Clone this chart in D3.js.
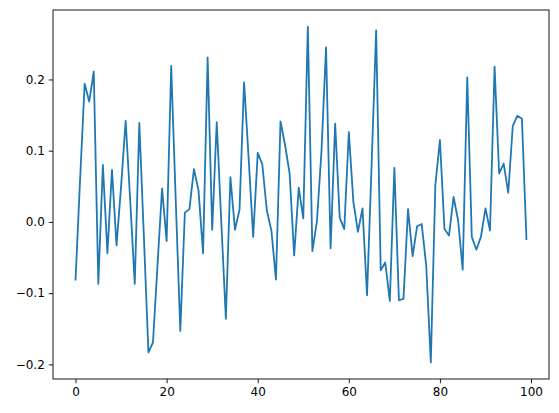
<!DOCTYPE html>
<html>
<head>
<meta charset="utf-8">
<script src="https://cdn.jsdelivr.net/npm/d3@7"></script>
<style>
  body { margin: 0; background: #fff; }
  svg { display: block; }
  .tick text { font-family: "DejaVu Sans", sans-serif; font-size: 12px; fill: #000; }
</style>
</head>
<body>
<script>
// valeurs
var valeurs = [
  -0.081, 0.06, 0.194, 0.169, 0.211, -0.087, 0.080, -0.044, 0.073, -0.033,
  0.05, 0.142, 0.03, -0.087, 0.139, -0.02, -0.183, -0.169, -0.06, 0.047,
  -0.027, 0.219, 0.03, -0.153, 0.013, 0.018, 0.074, 0.044, -0.044, 0.231,
  -0.011, 0.140, 0.0, -0.136, 0.063, -0.011, 0.017, 0.196, 0.09, -0.021,
  0.097, 0.081, 0.016, -0.012, -0.081, 0.141, 0.108, 0.068, -0.047, 0.048,
  0.005, 0.274, -0.041, 0.001, 0.10, 0.245, -0.037, 0.138, 0.006, -0.010,
  0.126, 0.028, -0.014, 0.019, -0.103, 0.08, 0.269, -0.068, -0.057, -0.111,
  0.076, -0.110, -0.108, 0.018, -0.048, -0.006, -0.003, -0.062, -0.197, 0.052,
  0.115, -0.010, -0.019, 0.035, 0.002, -0.067, 0.203, -0.021, -0.039, -0.021,
  0.019, -0.012, 0.218, 0.068, 0.082, 0.041, 0.135, 0.149, 0.145, -0.024
];
var ticksX = [0, 20, 40, 60, 80, 100];
var ticksY = [-0.2, -0.1, 0.0, 0.1, 0.2];

var largeur = 559, hauteur = 413;
var zone = { left: 53, top: 10, right: 549, bottom: 379 };

var svg = d3.select("body").append("svg")
  .attr("width", largeur)
  .attr("height", hauteur);

var donnees = valeurs.map((v, i) => ({ x: i, y: v }));

// marges de 5% comme matplotlib
var xMin = 0, xMax = valeurs.length - 1;
var dx = (xMax - xMin) * 0.05;
var yMin = d3.min(valeurs), yMax = d3.max(valeurs);
var dy = (yMax - yMin) * 0.05;

var echelleX = d3.scaleLinear()
  .domain([xMin - dx, xMax + dx])
  .range([zone.left, zone.right]);

var echelleY = d3.scaleLinear()
  .domain([yMin - dy, yMax + dy])
  .range([zone.bottom, zone.top]);

var ligne = d3.line()
  .x(d => echelleX(d.x))
  .y(d => echelleY(d.y));

svg.append("path")
  .datum(donnees)
  .attr("fill", "none")
  .attr("stroke", "#1f77b4")
  .attr("stroke-width", 1.8)
  .attr("stroke-linejoin", "round")
  .attr("stroke-linecap", "square")
  .attr("d", ligne);

var axeX = d3.axisBottom(echelleX)
  .tickValues(ticksX)
  .tickFormat(d3.format("d"))
  .tickSize(4.2)
  .tickPadding(4);

var axeY = d3.axisLeft(echelleY)
  .tickValues(ticksY)
  .tickFormat(d3.format(".1f"))
  .tickSize(4.2)
  .tickPadding(4);

var gX = svg.append("g")
  .attr("transform", `translate(0,${zone.bottom})`)
  .call(axeX);
var gY = svg.append("g")
  .attr("transform", `translate(${zone.left},0)`)
  .call(axeY);

[gX, gY].forEach(g => {
  g.select(".domain").remove();
  g.selectAll(".tick line").attr("stroke", "#000").attr("stroke-width", 0.9);
});

// cadre
svg.append("rect")
  .attr("x", zone.left)
  .attr("y", zone.top)
  .attr("width", zone.right - zone.left)
  .attr("height", zone.bottom - zone.top)
  .attr("fill", "none")
  .attr("stroke", "#000")
  .attr("stroke-width", 0.9);
</script>
</body>
</html>
